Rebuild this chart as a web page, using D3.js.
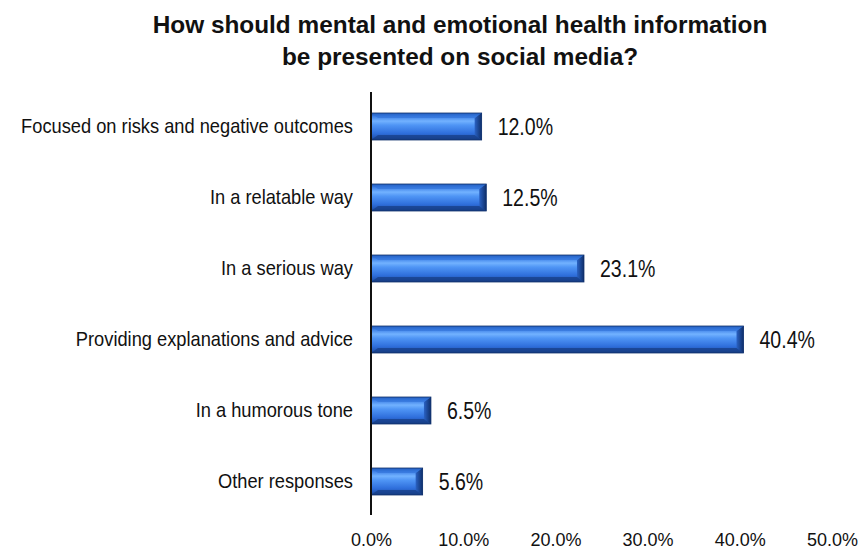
<!DOCTYPE html>
<html>
<head>
<meta charset="utf-8">
<script src="https://cdn.jsdelivr.net/npm/d3@7"></script>
<style>
  body { margin: 0; background: #fff; }
  svg text { font-family: "Liberation Sans", Arial, sans-serif; fill: #111; }
</style>
</head>
<body>
<div id="chart"></div>
<script>
// 数据
const categories = [
    "Focused on risks and negative outcomes",
    "In a relatable way",
    "In a serious way",
    "Providing explanations and advice",
    "In a humorous tone",
    "Other responses"
];
const values = [12.0, 12.5, 23.1, 40.4, 6.5, 5.6];
const tickValues = [0, 10, 20, 30, 40, 50];

const W = 858, H = 551;
const narrow = 0.87; // 模拟 Arial Narrow

const svg = d3.select("#chart")
    .append("svg")
    .attr("width", W)
    .attr("height", H);

// 渐变（圆柱效果）
const defs = svg.append("defs");
const grad = defs.append("linearGradient")
    .attr("id", "barGrad")
    .attr("x1", 0).attr("y1", 0).attr("x2", 0).attr("y2", 1);
[
    [0, "#1c4fa8"], [0.12, "#3b7ee6"], [0.3, "#72b2ff"],
    [0.45, "#4f95f5"], [0.75, "#2f6fdc"], [0.9, "#2358b8"], [1, "#173f85"]
].forEach(([o, c]) => grad.append("stop").attr("offset", o).attr("stop-color", c));

const capGrad = defs.append("linearGradient")
    .attr("id", "capGrad")
    .attr("x1", 0).attr("y1", 0).attr("x2", 1).attr("y2", 0);
capGrad.append("stop").attr("offset", 0).attr("stop-color", "#2a62c4");
capGrad.append("stop").attr("offset", 1).attr("stop-color", "#0f2f6a");

// 比例尺
const x = d3.scaleLinear().domain([0, 50]).range([371, 832]);
const y = d3.scaleBand()
    .domain(categories)
    .range([91, 517])
    .paddingInner(0.62)
    .paddingOuter(0.31);

// 标题
const title = svg.append("text")
    .attr("transform", "translate(460,0) scale(1.06,1)")
    .attr("text-anchor", "middle")
    .style("font-size", "23px")
    .style("font-weight", "bold");
title.append("tspan").attr("x", 0).attr("y", 33).text("How should mental and emotional health information");
title.append("tspan").attr("x", 0).attr("y", 65).text("be presented on social media?");

// 柱子
const bars = svg.append("g");
categories.forEach((c, i) => {
    const x0 = x(0), x1 = x(values[i]);
    const y0 = y(c), bh = y.bandwidth();
    const cap = 7;
    bars.append("rect")
        .attr("x", x0)
        .attr("y", y0)
        .attr("width", x1 - x0)
        .attr("height", bh)
        .attr("fill", "url(#barGrad)");
    // 右端斜面
    bars.append("path")
        .attr("d", `M${x1 - cap},${y0 + 5} L${x1},${y0} L${x1},${y0 + bh} L${x1 - cap},${y0 + bh - 5} Z`)
        .attr("fill", "url(#capGrad)");
    // 顶部与底部斜面
    bars.append("path")
        .attr("d", `M${x0},${y0} L${x1},${y0} L${x1 - cap},${y0 + 5} L${x0 + cap},${y0 + 5} Z`)
        .attr("fill", "#2e6fd6")
        .attr("opacity", 0.55);
    bars.append("path")
        .attr("d", `M${x0 + cap},${y0 + bh - 5} L${x1 - cap},${y0 + bh - 5} L${x1},${y0 + bh} L${x0},${y0 + bh} Z`)
        .attr("fill", "#163c82")
        .attr("opacity", 0.7);
    bars.append("rect")
        .attr("x", x0)
        .attr("y", y0)
        .attr("width", x1 - x0)
        .attr("height", bh)
        .attr("fill", "none")
        .attr("stroke", "#0f2f6a")
        .attr("stroke-width", 0.8);

    // 数值标签
    svg.append("text")
        .attr("transform", `translate(${x1 + 16},${y0 + bh / 2}) scale(0.85,1)`)
        .attr("dy", "0.36em")
        .style("font-size", "23px")
        .text(values[i].toFixed(1) + "%");
});

// Y 轴
svg.append("g")
    .attr("transform", `translate(${x(0)},0)`)
    .call(d3.axisLeft(y).tickSize(0).tickPadding(18))
    .call(g => g.select(".domain").remove())
    .selectAll("text")
    .style("font-size", "21px")
    .attr("x", -18 / narrow)
    .attr("transform", `scale(${narrow},1)`);

svg.append("line")
    .attr("x1", x(0)).attr("x2", x(0))
    .attr("y1", 92).attr("y2", 515)
    .attr("stroke", "#111")
    .attr("stroke-width", 2);

// X 轴（只显示标签）
svg.append("g")
    .attr("transform", `translate(0,529)`)
    .call(d3.axisBottom(x).tickValues(tickValues).tickSize(0).tickPadding(4)
        .tickFormat(d => d.toFixed(1) + "%"))
    .call(g => g.select(".domain").remove())
    .selectAll("text")
    .style("font-size", "18px");
</script>
</body>
</html>
